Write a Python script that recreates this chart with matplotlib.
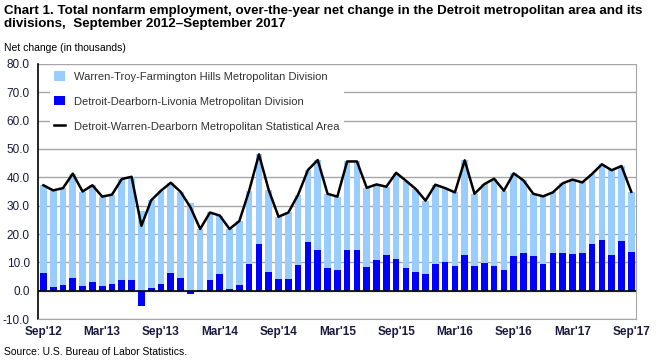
import matplotlib

matplotlib.use("Agg")
import matplotlib.pyplot as plt
import numpy as np

plt.rcParams["font.family"] = ["Liberation Sans", "DejaVu Sans"]

# Over-the-year net change, thousands, Sep 2012 .. Sep 2017
months = [
    "Sep'12", "Oct'12", "Nov'12", "Dec'12", "Jan'13", "Feb'13", "Mar'13", "Apr'13", "May'13", "Jun'13",
    "Jul'13", "Aug'13", "Sep'13", "Oct'13", "Nov'13", "Dec'13", "Jan'14", "Feb'14", "Mar'14", "Apr'14",
    "May'14", "Jun'14", "Jul'14", "Aug'14", "Sep'14", "Oct'14", "Nov'14", "Dec'14", "Jan'15", "Feb'15",
    "Mar'15", "Apr'15", "May'15", "Jun'15", "Jul'15", "Aug'15", "Sep'15", "Oct'15", "Nov'15", "Dec'15",
    "Jan'16", "Feb'16", "Mar'16", "Apr'16", "May'16", "Jun'16", "Jul'16", "Aug'16", "Sep'16", "Oct'16",
    "Nov'16", "Dec'16", "Jan'17", "Feb'17", "Mar'17", "Apr'17", "May'17", "Jun'17", "Jul'17", "Aug'17",
    "Sep'17",
]

warren = [
    30.8, 34.0, 34.1, 36.7, 33.2, 34.0, 31.4, 31.4, 35.5, 36.3,
    28.1, 30.8, 32.8, 31.7, 30.3, 30.8, 21.4, 23.7, 20.5, 21.1,
    22.5, 25.8, 31.5, 28.8, 21.9, 23.4, 24.7, 25.3, 31.6, 26.1,
    25.8, 31.1, 31.1, 27.8, 26.6, 24.0, 30.3, 30.7, 29.2, 25.8,
    27.9, 26.0, 25.9, 33.3, 25.4, 27.7, 30.7, 27.9, 29.0, 25.5,
    21.8, 23.8, 21.3, 24.5, 26.1, 24.8, 24.6, 26.6, 29.8, 26.4,
    21.1,
]

detroit = [
    6.4, 1.4, 2.1, 4.6, 1.8, 3.2, 1.8, 2.5, 3.9, 3.9,
    -5.2, 1.1, 2.5, 6.4, 4.6, -1.3, 0.4, 3.9, 6.0, 0.7,
    2.1, 9.5, 16.6, 6.7, 4.2, 4.2, 9.2, 17.3, 14.5, 8.1,
    7.4, 14.5, 14.5, 8.5, 10.9, 12.7, 11.3, 8.1, 6.7, 6.0,
    9.5, 10.2, 8.8, 12.7, 8.8, 9.9, 8.8, 7.4, 12.4, 13.4,
    12.4, 9.5, 13.4, 13.4, 13.1, 13.4, 16.6, 18.0, 12.7, 17.6,
    13.8,
]

msa = [
    37.2, 35.4, 36.2, 41.3, 35.0, 37.2, 33.2, 33.9, 39.4, 40.2,
    22.9, 31.9, 35.3, 38.1, 34.9, 29.5, 21.8, 27.6, 26.5, 21.8,
    24.6, 35.3, 48.1, 35.5, 26.1, 27.6, 33.9, 42.6, 46.1, 34.2,
    33.2, 45.6, 45.6, 36.3, 37.5, 36.7, 41.6, 38.8, 35.9, 31.8,
    37.4, 36.2, 34.7, 46.0, 34.2, 37.6, 39.5, 35.3, 41.4, 38.9,
    34.2, 33.3, 34.7, 37.9, 39.2, 38.2, 41.2, 44.6, 42.5, 44.0,
    34.9,
]

x = np.arange(len(months))
det = np.array(detroit)
light_bottom = np.where(det > 0, det, 0.0)

fig = plt.figure(figsize=(6.57, 3.61), dpi=100)
ax = fig.add_axes([0.058, 0.116, 0.91, 0.707])

label_color = "#1a1a40"
ax.set_axisbelow(True)
ax.yaxis.grid(True, color="#a6a6a6", linewidth=1.0)

h_warren = ax.bar(x, warren, bottom=light_bottom, width=0.68, color="#99ccff",
                  label="Warren-Troy-Farmington Hills Metropolitan Division", zorder=2)
h_detroit = ax.bar(x, detroit, width=0.68, color="#0000ff",
                   label="Detroit-Dearborn-Livonia Metropolitan Division", zorder=2)
h_msa, = ax.plot(x, msa, color="black", linewidth=1.8,
                 label="Detroit-Warren-Dearborn Metropolitan Statistical Area", zorder=3)
ax.axhline(0, color="black", linewidth=1.2, zorder=3)

ax.set_xlim(-0.54, 60.48)
ax.set_ylim(-10, 80)
ax.set_yticks(np.arange(-10, 81, 10))
ax.set_yticklabels([f"{v:.1f}" for v in np.arange(-10, 81, 10)])
ax.set_xticks(x[::6])
ax.set_xticklabels(months[::6])
ax.tick_params(axis="y", length=0, labelsize=8.5, labelcolor=label_color, pad=6)
ax.tick_params(axis="x", length=0, labelsize=8.5, labelcolor=label_color, pad=5)
for lab in ax.get_xticklabels():
    lab.set_fontweight("bold")

ax.spines["top"].set_visible(False)
ax.spines["left"].set_color("black")
ax.spines["left"].set_linewidth(1.2)
ax.spines["bottom"].set_color("#a6a6a6")
ax.spines["right"].set_color("#a6a6a6")

leg = ax.legend([h_warren, h_detroit, h_msa],
                [h_warren.get_label(), h_detroit.get_label(), h_msa.get_label()],
                loc="upper left", bbox_to_anchor=(0.01, 1.01), fontsize=8,
                frameon=True, facecolor="white", edgecolor="none", framealpha=1,
                labelspacing=1.3, handlelength=1.0, handleheight=0.9,
                borderpad=0.4)
for t in leg.get_texts():
    t.set_color("#333333")

fig.text(0.006, 0.985,
         "Chart 1. Total nonfarm employment, over-the-year net change in the Detroit metropolitan area and its\n"
         "divisions,  September 2012\u2013September 2017",
         fontsize=9.65, fontweight="bold", va="top", ha="left", linespacing=1.12)
fig.text(0.006, 0.868, "Net change (in thousands)", fontsize=7.5, va="center", ha="left")
fig.text(0.006, 0.025, "Source: U.S. Bureau of Labor Statistics.", fontsize=7.5, va="center", ha="left")

fig.savefig("out.png", dpi=100)
